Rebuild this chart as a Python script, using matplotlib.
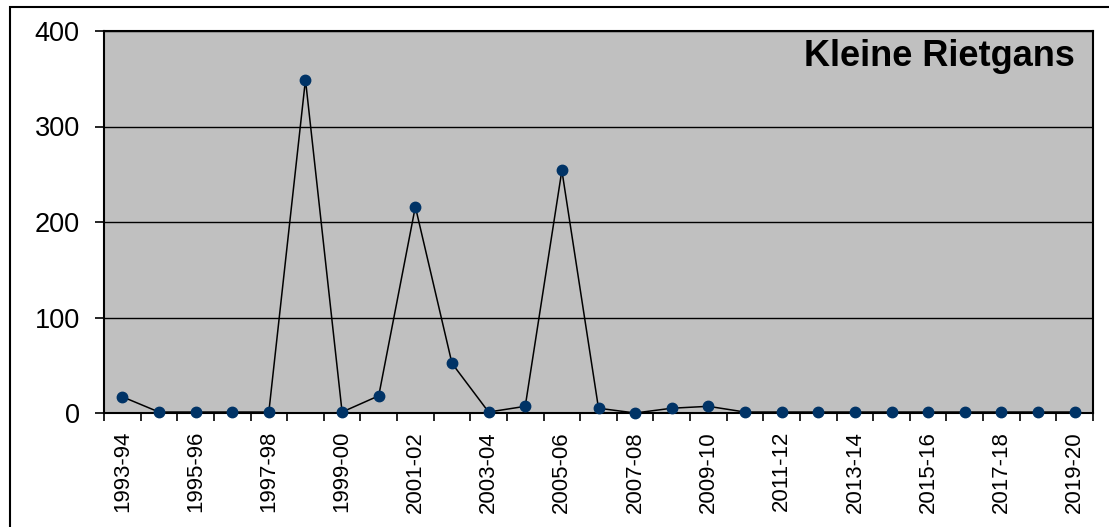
import matplotlib
matplotlib.use("Agg")
import matplotlib.pyplot as plt
from matplotlib.patches import Rectangle
from matplotlib.ticker import FixedLocator, NullFormatter

plt.rcParams['font.family'] = ['Liberation Sans', 'DejaVu Sans']

seasons = ["1993-94", "1994-95", "1995-96", "1996-97", "1997-98", "1998-99",
           "1999-00", "2000-01", "2001-02", "2002-03", "2003-04", "2004-05",
           "2005-06", "2006-07", "2007-08", "2008-09", "2009-10", "2010-11",
           "2011-12", "2012-13", "2013-14", "2014-15", "2015-16", "2016-17",
           "2017-18", "2018-19", "2019-20"]
counts = [17, 1, 1, 1, 1, 349, 1, 18, 216, 52, 1, 7, 254, 5, 0, 5, 7, 1,
          1, 1, 1, 1, 1, 1, 1, 1, 1]
yticks = [0, 100, 200, 300, 400]
title = "Kleine Rietgans"

W, H = 1109, 527
fig = plt.figure(figsize=(W / 100, H / 100), dpi=100)
fig.patch.set_facecolor("white")

# outer chart frame
fig.patches.append(Rectangle((10 / W, -0.1), 1.2, 1 - 7 / H + 0.1,
                             transform=fig.transFigure, fill=False,
                             edgecolor="black", linewidth=1.5))

left, right, top, bottom = 104, 1093, 31, 413
ax = fig.add_axes([left / W, 1 - bottom / H, (right - left) / W, (bottom - top) / H])
ax.set_facecolor("#C0C0C0")

x = list(range(len(seasons)))
ax.plot(x, counts, color="black", linewidth=1.1, zorder=3, clip_on=False)
ax.plot(x, counts, linestyle="none", marker="o", markersize=7.5,
        color="#003366", zorder=4, clip_on=False)

ax.set_xlim(-0.5, len(seasons) - 0.5)
ax.set_ylim(0, 400)
ax.set_yticks(yticks)
ax.set_yticklabels([str(v) for v in yticks])
ax.yaxis.grid(True, color="black", linewidth=1.0)
ax.set_axisbelow(True)

# category boundary ticks (major, no labels) and labels at even categories (minor)
ax.xaxis.set_major_locator(FixedLocator([i - 0.5 for i in range(len(seasons) + 1)]))
ax.xaxis.set_major_formatter(NullFormatter())
ax.xaxis.set_minor_locator(FixedLocator(x[::2]))
ax.set_xticklabels(seasons[::2], minor=True, rotation=90, fontsize=16)
ax.tick_params(axis="x", which="major", direction="out", length=6, width=1.2)
ax.tick_params(axis="x", which="minor", length=0, pad=13)
for lab in ax.get_xticklabels(minor=True):
    lab.set_verticalalignment("top")
    lab.set_horizontalalignment("center")

ax.tick_params(axis="y", direction="out", length=6.5, width=1.2, labelsize=19.5, pad=11)

for s in ax.spines.values():
    s.set_linewidth(1.5)
    s.set_color("black")

ax.text(1 - 18 / (right - left), 1 - 8 / (bottom - top), title, transform=ax.transAxes,
        ha="right", va="top", fontsize=26, fontweight="bold", zorder=5)

fig.savefig("out.png", dpi=100)
